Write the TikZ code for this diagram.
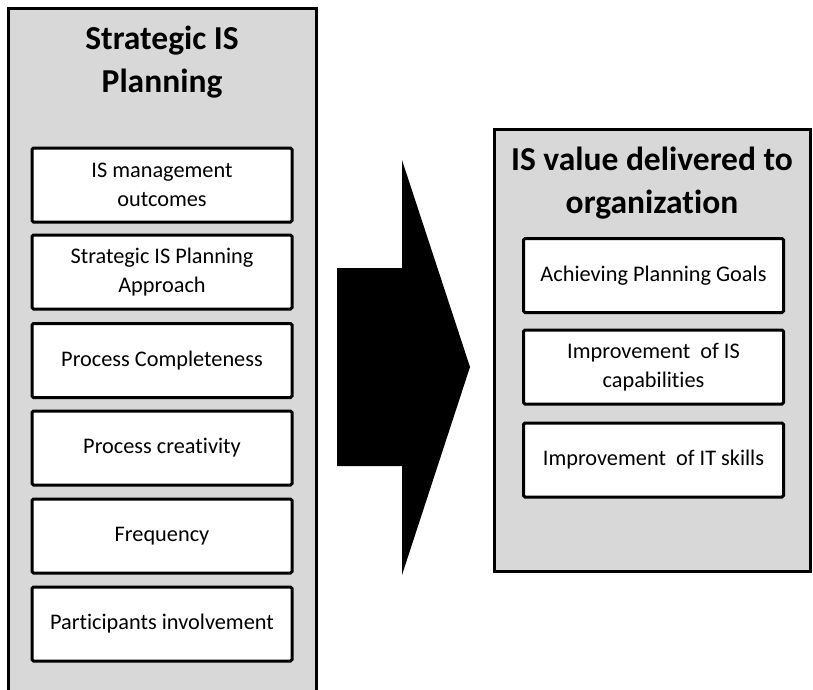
\documentclass[tikz,border=0pt]{standalone}
\usepackage{fontspec}
\setmainfont{Carlito}[Ligatures=NoCommon]
\definecolor{panelgray}{RGB}{216,216,216}
\begin{document}
\begin{tikzpicture}[x=1pt,y=-1pt,
  panel/.style={draw=black,line width=3pt,fill=panelgray},
  item/.style={draw=black,line width=3pt,fill=white,rounded corners=1.5pt,
    minimum width=260pt,minimum height=74pt,align=center,inner sep=0pt,
    font=\fontsize{22.3}{29}\selectfont},
  paneltitle/.style={align=center,inner sep=0pt,font=\fontsize{33.5}{43}\selectfont\bfseries}]
\useasboundingbox (0,0) rectangle (813,689);
\clip (0,0) rectangle (813,689);

% left panel: strategic IS planning
\draw[panel] (8.5,8.5) rectangle (316,710);
\node[paneltitle] (ltitle) at (162,62) {Strategic IS\\Planning};
\node[item] (l1) at (162,185)   {IS management\\outcomes};
\node[item] (l2) at (162,272)   {Strategic IS Planning\\Approach};
\node[item] (l3) at (162,360.5) {Process Completeness};
\node[item] (l4) at (162,448)   {Process creativity};
\node[item] (l5) at (162,536)   {Frequency};
\node[item] (l6) at (162,624)   {Participants involvement};

% block arrow
\fill[black] (337,268) -- (402,268) -- (402,160) -- (470,367) -- (402,575)
  -- (402,466) -- (337,466) -- cycle;

% right panel: delivered value
\draw[panel] (494.5,129.5) rectangle (810.5,571);
\node[paneltitle] (rtitle) at (652,183) {IS value delivered to\\organization};
\node[item] (r1) at (653.5,275.5) {Achieving Planning Goals};
\node[item] (r2) at (653.5,367) {Improvement\ \ of IS\\capabilities};
\node[item] (r3) at (653.5,460)   {Improvement\ \ of IT skills};
\end{tikzpicture}
\end{document}
